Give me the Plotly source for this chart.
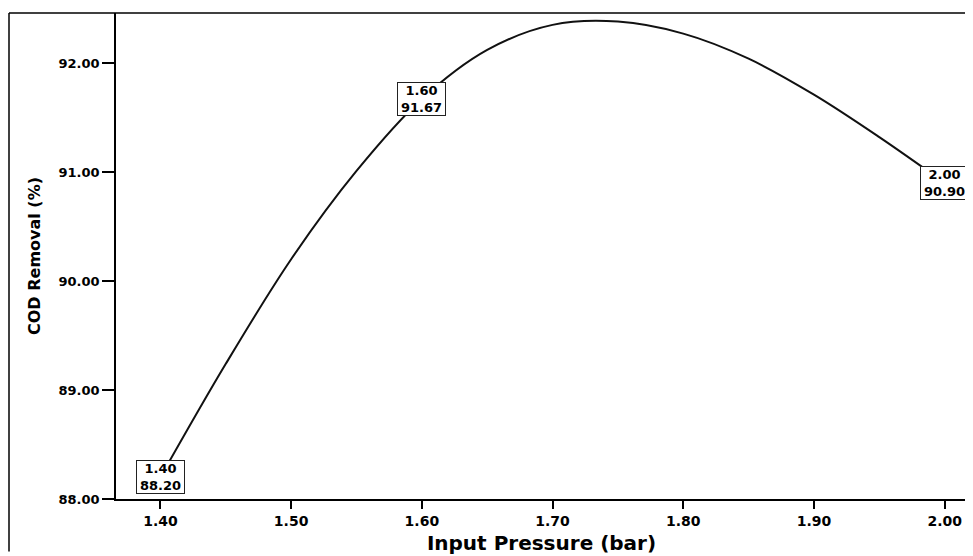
import plotly.graph_objects as go

# Labelled measurements
pressure = [1.40, 1.60, 2.00]
cod_removal = [88.20, 91.67, 90.90]

# Fitted curve, values
curve_pressure = [1.40, 1.45, 1.50, 1.55, 1.60, 1.65, 1.70, 1.75, 1.80, 1.85, 1.90, 1.95, 2.00]
curve_removal = [88.20, 89.24, 90.20, 91.01, 91.67, 92.12, 92.35, 92.38, 92.27, 92.04, 91.71, 91.32, 90.90]

x_ticks = [1.40, 1.50, 1.60, 1.70, 1.80, 1.90, 2.00]
y_ticks = [88.0, 89.0, 90.0, 91.0, 92.0]

FONT = "DejaVu Sans, Verdana, Arial"

fig = go.Figure()
fig.add_trace(go.Scatter(
    x=curve_pressure, y=curve_removal, mode="lines",
    line=dict(color="#111111", width=2, shape="spline", smoothing=1.0),
    hoverinfo="x+y", showlegend=False,
))

for xv, yv in zip(pressure, cod_removal):
    fig.add_annotation(
        x=xv, y=yv, text=f"<b>{xv:.2f}<br>{yv:.2f}</b>", showarrow=False,
        font=dict(family=FONT, size=13, color="black"),
        bgcolor="white", bordercolor="#222222", borderwidth=1, borderpad=0,
        width=47, height=32,
        xanchor="center", yanchor="middle",
    )

W, H = 965, 548  # page body adds an 8px margin
L, R, T, B = 108, 6, 5, 53
fx = lambda px: (px - L) / (W - L - R)

fig.update_layout(
    width=W, height=H,
    margin=dict(l=L, r=R, t=T, b=B),
    paper_bgcolor="white", plot_bgcolor="white",
    xaxis=dict(
        range=[1.366, 2.0171], tickvals=x_ticks,
        ticktext=[f"<b>{v:.2f}</b>" for v in x_ticks],
        tickfont=dict(family=FONT, size=14, color="black"),
        showgrid=False, zeroline=False, showline=True, linecolor="black", linewidth=1.5,
        ticks="outside", ticklen=8, tickwidth=1.5, tickcolor="black",
        title=dict(text="<b>Input Pressure (bar)</b>", font=dict(family=FONT, size=20, color="black"), standoff=8),
    ),
    yaxis=dict(
        range=[88.0, 92.459], tickvals=y_ticks,
        ticktext=[f"<b>{v:.2f}</b>" for v in y_ticks],
        tickfont=dict(family=FONT, size=13, color="black"),
        showgrid=False, zeroline=False, showline=True, linecolor="black", linewidth=1.5,
        ticks="outside", ticklen=12, tickwidth=1.5, tickcolor="black",
        title=dict(text="<b>COD Removal (%)</b>", font=dict(family=FONT, size=16, color="black"), standoff=14),
    ),
    shapes=[
        dict(type="line", xref="paper", yref="paper", x0=fx(1), x1=1.0, y0=1, y1=1,
             line=dict(color="black", width=1.5)),
        dict(type="line", xref="paper", yref="paper", x0=fx(1), x1=fx(1),
             y0=-B / (H - T - B), y1=1, line=dict(color="black", width=1.5)),
        dict(type="line", xref="paper", yref="paper", x0=1.0, x1=1.0,
             y0=-B / (H - T - B), y1=1, line=dict(color="black", width=1.5)),
    ],
)

fig.write_html("out.html")
